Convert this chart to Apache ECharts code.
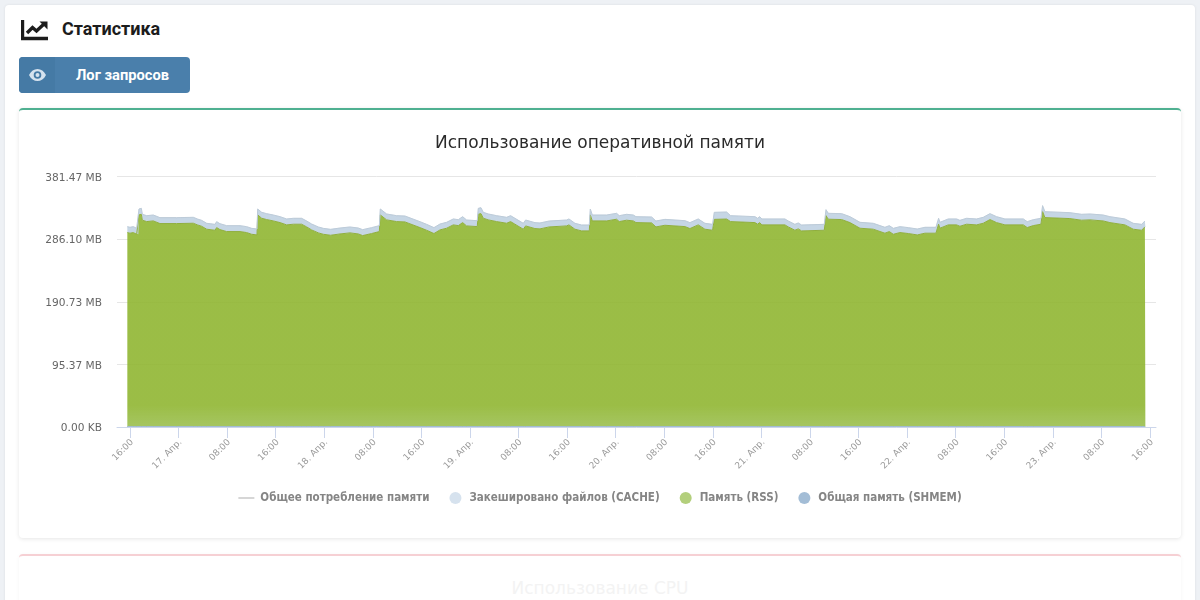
<!DOCTYPE html>
<html lang="ru"><head><meta charset="utf-8"><title>Статистика</title>
<script src="https://cdn.jsdelivr.net/npm/echarts@6/dist/echarts.min.js"></script>
<style>
html,body{margin:0;padding:0;width:1200px;height:600px;overflow:hidden;background:#eef1f5;font-family:Roboto,sans-serif}
.outer{position:absolute;left:5px;top:5px;width:1190px;height:640px;background:#fff;border-radius:4px;box-shadow:0 0 3px rgba(0,0,0,.08)}
.card{position:absolute;left:19px;width:1162px;background:#fff;border-radius:4px;box-sizing:border-box;box-shadow:0 1px 4px rgba(0,0,0,.1)}
#c1{top:108px;height:430px;border-top:2px solid #4fb091}
#c2{top:554px;height:120px;border-top:2px solid #f6d0d4;box-shadow:0 1px 4px rgba(0,0,0,.04)}
h1{position:absolute;left:62px;top:19px;margin:0;font-size:18px;line-height:20px;font-weight:700;color:#1c1c1c}
.btn{position:absolute;left:19px;top:57px;width:171px;height:36px;background:#4a7fab;border-radius:4px;color:#fff;font-weight:700;font-size:14.7px;line-height:36px;overflow:hidden}
.btn i{position:absolute;left:0;top:0;width:36px;height:36px;background:#457aa5}
.btn span{position:absolute;left:57px;top:0;white-space:nowrap}
.btn svg{position:absolute;left:10px;top:12px}
.ico{position:absolute;left:21px;top:19px}
.ghost{position:absolute;left:0;right:0;top:578px;text-align:center;font:17px "DejaVu Sans",sans-serif;color:#f3f3f3}
#chart{position:absolute;left:0;top:0;width:1200px;height:600px}
</style></head><body>
<div class="outer"></div>
<svg class="ico" width="28" height="22" viewBox="0 0 28 22"><path d="M1.5 1V19.5H27" fill="none" stroke="#1c1c1c" stroke-width="3.4"/><path d="M6 14L11.5 8.5L15.5 12L23 5" fill="none" stroke="#1c1c1c" stroke-width="3.4"/><path d="M18.5 2.5H26.5V10.5Z" fill="#1c1c1c"/></svg>
<h1>Статистика</h1>
<div class="btn"><i></i><svg width="17" height="12" viewBox="0 0 17 12"><path fill-rule="evenodd" d="M0 6C2 2 5 0 8.5 0S15 2 17 6C15 10 12 12 8.5 12S2 10 0 6ZM8.5 2.2A3.8 3.8 0 1 0 8.5 9.8A3.8 3.8 0 1 0 8.5 2.2ZM8.5 4A2 2 0 1 1 8.5 8A2 2 0 1 1 8.5 4Z" fill="#d5e2ee"/></svg><span>Лог запросов</span></div>
<div class="card" id="c1"></div>
<div class="card" id="c2"></div>
<div class="ghost">Использование CPU</div>
<div id="chart"></div>
<script>
const chartTitle = 'Использование оперативной памяти';
const seriesNames = ['Общее потребление памяти','Закешировано файлов (CACHE)','Память (RSS)','Общая память (SHMEM)'];
const yTickLabels = ['0.00 KB','95.37 MB','190.73 MB','286.10 MB','381.47 MB'];
const xTickHours = [0,8,16,24,32,40,48,56,64,72,80,88,96,104,112,120,128,136,144,152,160,168];
const xTickLabels = ['16:00','17. Апр.','08:00','16:00','18. Апр.','08:00','16:00','19. Апр.','08:00','16:00','20. Апр.','08:00','16:00','21. Апр.','08:00','16:00','22. Апр.','08:00','16:00','23. Апр.','08:00','16:00'];
const hours = [-0.44,0,0.55,1.1,1.37,1.48,1.87,2.03,2.75,3.84,
4.94,7.69,10.43,11.09,11.8,12.63,14,14.27,14.82,15.92,
18.12,19.21,20.04,20.92,21.03,21.69,22.51,23.61,24.71,25.8,
26.9,28.27,29.1,29.92,31.02,31.84,33.05,34.59,36.23,37.61,
38.32,39.8,41.07,41.23,42.27,43.92,45.29,47.76,48.86,50.07,
51.06,52.15,53.25,54.08,54.79,55.45,57.2,57.37,57.81,58.19,
59.02,60.39,62.04,62.69,63.41,64.78,65.17,66.7,67.53,69.06,
71.92,72.3,73.29,74.39,75.65,75.82,76.15,78.51,80.15,80.59,
81.8,82.9,83.34,85.92,86.63,88.11,91.41,92.23,93.6,94.7,
95.96,96.24,98.27,98.93,102.94,103.38,103.71,104.09,107.88,108.43,
109.52,110.07,110.62,114.36,114.64,115.02,117.22,118.59,120.24,122.43,
124.35,125.07,125.73,126.82,128.2,129.68,130.94,132.75,133.19,133.41,
134.78,136.16,136.7,137.8,139.45,140.55,141.65,142.74,144.12,147.14,
147.79,148.78,150.05,150.32,150.7,154.82,156.74,158.12,160.3,161.4,
163.88,165.25,166.63,167.17,167.25];
const totalMem = [305.1,304.1,305.1,302.5,302.5,332,333,323.9,321.8,322.8,
318.8,318.8,319.3,316.8,314.7,310.2,308.6,312.7,309.6,306.6,
306.6,305.1,302.5,301.5,332,326.9,324.9,322.8,320.3,316.8,
317.8,317.8,313.7,309.1,304.6,302.5,301,303,304.6,303,
300.5,303.6,306.6,332,324.4,321.8,321.3,312.7,308.6,303.6,
309.1,311.7,316.8,315.7,320.3,315.2,314.2,333,334,326.9,
324.4,321.8,319.3,321.8,317.8,310.2,315.2,311.2,310.7,313.7,
315.2,316.8,310.2,307.6,307.6,332,322.8,322.8,325.4,321.8,
323.9,322.8,320.3,319.8,313.7,316.2,314.2,311.2,316.8,310.2,
308.6,326.9,327.4,321.8,320.3,317.8,320.3,316.8,316.8,313.7,
308.6,310.7,307.6,308.6,331,325.4,324.9,320.3,311.7,310.2,
304.1,306.6,302.5,305.1,303.6,301.5,304.1,304.1,317.8,311.7,
316.8,316.8,314.7,317.8,316.8,319.3,324.9,320.3,316.8,316.8,
312.7,315.7,317.8,337.1,327.9,326.4,323.9,324.4,322.8,320.3,
316.8,310.2,308.6,313.7,313.7];
const rssMem = [296.1,295.1,296.1,293.5,293.5,323,324,314.9,312.8,313.8,
309.8,309.8,310.3,307.8,305.7,301.2,299.6,303.7,300.6,297.6,
297.6,296.1,293.5,292.5,323,317.9,315.9,313.8,311.3,307.8,
308.8,308.8,304.7,300.1,295.6,293.5,292,294,295.6,294,
291.5,294.6,297.6,323,315.4,312.8,312.3,303.7,299.6,294.6,
300.1,302.7,307.8,306.7,311.3,306.2,305.2,324,325,317.9,
315.4,312.8,310.3,312.8,308.8,301.2,306.2,302.2,301.7,304.7,
306.2,307.8,301.2,298.6,298.6,323,313.8,313.8,316.4,312.8,
314.9,313.8,311.3,310.8,304.7,307.2,305.2,302.2,307.8,301.2,
299.6,316.2,316.7,312.8,311.3,308.8,311.3,307.8,307.8,304.7,
299.6,301.7,298.6,299.6,322,316.4,315.9,311.3,302.7,301.2,
295.1,297.6,293.5,296.1,294.6,292.5,295.1,295.1,308.8,302.7,
307.8,307.8,305.7,308.8,307.8,310.3,315.9,311.3,307.8,307.8,
303.7,306.7,308.8,328.1,318.9,317.4,314.9,315.4,313.8,311.3,
307.8,301.2,299.6,304.7,304.7];
const cacheMem = [9,9,9,9,9,9,9,9,9,9,
9,9,9,9,9,9,9,9,9,9,
9,9,9,9,9,9,9,9,9,9,
9,9,9,9,9,9,9,9,9,9,
9,9,9,9,9,9,9,9,9,9,
9,9,9,9,9,9,9,9,9,9,
9,9,9,9,9,9,9,9,9,9,
9,9,9,9,9,9,9,9,9,9,
9,9,9,9,9,9,9,9,9,9,
9,10.7,10.7,9,9,9,9,9,9,9,
9,9,9,9,9,9,9,9,9,9,
9,9,9,9,9,9,9,9,9,9,
9,9,9,9,9,9,9,9,9,9,
9,9,9,9,9,9,9,9,9,9,
9,9,9,9,9];
const shmemMem = [0.7,0.7,0.7,0.7,0.7,0.7,0.7,0.7,0.7,0.7,
0.7,0.7,0.7,0.7,0.7,0.7,0.7,0.7,0.7,0.7,
0.7,0.7,0.7,0.7,0.7,0.7,0.7,0.7,0.7,0.7,
0.7,0.7,0.7,0.7,0.7,0.7,0.7,0.7,0.7,0.7,
0.7,0.7,0.7,0.7,0.7,0.7,0.7,0.7,0.7,0.7,
0.7,0.7,0.7,0.7,0.7,0.7,0.7,0.7,0.7,0.7,
0.7,0.7,0.7,0.7,0.7,0.7,0.7,0.7,0.7,0.7,
0.7,0.7,0.7,0.7,0.7,0.7,0.7,0.7,0.7,0.7,
0.7,0.7,0.7,0.7,0.7,0.7,0.7,0.7,0.7,0.7,
0.7,0.7,0.7,0.7,0.7,0.7,0.7,0.7,0.7,0.7,
0.7,0.7,0.7,0.7,0.7,0.7,0.7,0.7,0.7,0.7,
0.7,0.7,0.7,0.7,0.7,0.7,0.7,0.7,0.7,0.7,
0.7,0.7,0.7,0.7,0.7,0.7,0.7,0.7,0.7,0.7,
0.7,0.7,0.7,0.7,0.7,0.7,0.7,0.7,0.7,0.7,
0.7,0.7,0.7,0.7,0.7];

const FONT = '"DejaVu Sans",sans-serif';
// value first, hour second: the stack then adds along the memory dimension
const pair = arr => arr.map((v,i)=>[v,hours[i]]);
const enc = {x:1,y:0};
const chart = echarts.init(document.getElementById('chart'),null,{renderer:'canvas'});
chart.setOption({
  animation:false,
  backgroundColor:'transparent',
  title:{text:chartTitle,left:'center',top:135,padding:0,textStyle:{fontFamily:FONT,fontSize:17,fontWeight:'normal',color:'#2b2b2b'}},
  legend:{top:487,left:'center',itemWidth:16,itemHeight:12,itemGap:20,
    textStyle:{fontFamily:'"DejaVu Sans Condensed","DejaVu Sans",sans-serif',fontWeight:'bold',fontSize:11.5,color:'#858585',padding:[0,0,0,1]},
    data:[
      {name:seriesNames[0],icon:'path://M0 0H16V1.6H0Z',itemStyle:{color:'#cccccc'}},
      {name:seriesNames[1],icon:'circle',itemStyle:{color:'#d6e2ee'}},
      {name:seriesNames[2],icon:'circle',itemStyle:{color:'#b3cf7c'}},
      {name:seriesNames[3],icon:'circle',itemStyle:{color:'#a3bdd6'}}]},
  grid:{left:117,right:44,top:176.5,height:250.5},
  xAxis:{type:'value',min:-2.14,max:169,splitLine:{show:false},
    axisLine:{show:true,onZero:false,lineStyle:{color:'#ccd6eb'}},
    axisTick:{show:true,length:11,customValues:xTickHours,lineStyle:{color:'#ccd6eb'}},
    axisLabel:{customValues:xTickHours,rotate:45,margin:16,padding:[0,-3,0,0],fontFamily:FONT,fontSize:9,color:'#999999',hideOverlap:false,
      formatter:v=>xTickLabels[xTickHours.indexOf(v)]||''}},
  yAxis:{type:'value',min:0,max:381.47,interval:95.3675,
    axisLine:{show:false},axisTick:{show:false},
    splitLine:{lineStyle:{color:'#e6e6e6',width:1}},
    axisLabel:{margin:15,verticalAlign:'top',lineHeight:3,fontFamily:FONT,fontSize:10.6,color:'#666666',
      formatter:v=>yTickLabels[Math.round(v/95.3675)]}},
  series:[
    {name:seriesNames[2],type:'line',stack:'mem',encode:enc,showSymbol:false,data:pair(rssMem),z:3,
      lineStyle:{width:1,color:'#8fae3c'},itemStyle:{color:'#b3cf7c'},
      areaStyle:{opacity:1,color:{type:'linear',x:0,y:0,x2:0,y2:1,colorStops:[
        {offset:0,color:'rgba(144,182,50,.9)'},{offset:.9,color:'rgba(144,182,50,.9)'},{offset:1,color:'rgba(150,188,70,.85)'}]}}},
    {name:seriesNames[1],type:'line',stack:'mem',encode:enc,showSymbol:false,data:pair(cacheMem),z:3,
      lineStyle:{width:1,color:'#b8cbdd'},itemStyle:{color:'#d6e2ee'},areaStyle:{color:'#c6d6e5',opacity:1}},
    {name:seriesNames[3],type:'line',encode:enc,showSymbol:false,data:pair(shmemMem),z:4,
      lineStyle:{width:1,color:'#a3bdd6'},itemStyle:{color:'#a3bdd6'},areaStyle:{color:'#a3bdd6',opacity:.6}},
    {name:seriesNames[0],type:'line',encode:enc,showSymbol:false,data:pair(totalMem),z:4,
      lineStyle:{width:1,color:'#cccccc',opacity:.25},itemStyle:{color:'#cccccc'}}
  ]
});
</script>
</body></html>
